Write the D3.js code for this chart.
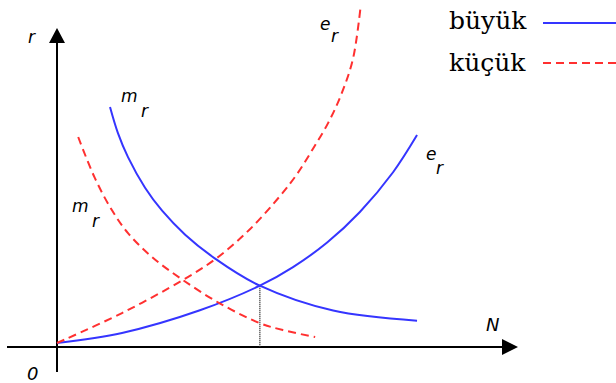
<!DOCTYPE html>
<html><head><meta charset="utf-8">
<script src="https://cdn.jsdelivr.net/npm/d3@7"></script>
<style>html,body{margin:0;padding:0;background:#fff;}svg{display:block;}</style>
</head><body>
<svg id="c" width="616" height="383"></svg>
<script>
// ---- data (N, r in arbitrary units) ----
const legendLabels = ["büyük", "küçük"];
const bigER_N   = [0, 14.1, 31.0, 44.0, 51.2, 58.6, 65.7, 72.9, 78.1];
const bigER_r   = [0, 3.2, 10.4, 18.2, 24.1, 31.9, 41.6, 54.2, 66.0];
const bigMR_N   = [11.5, 13.2, 15.4, 19.1, 22.8, 27.8, 34.3, 44.0, 59.9, 78.1];
const bigMR_r   = [74.9, 66.7, 59.0, 49.3, 42.0, 34.4, 26.8, 18.2, 10.3, 7.1];
const smallER_N = [0, 14.1, 27.3, 34.7, 41.9, 48.4, 52.1, 55.5, 58.8, 61.6, 64.2, 65.9];
const smallER_r = [0, 9.5, 20.0, 27.0, 36.2, 46.7, 53.7, 61.6, 69.8, 78.7, 90.2, 107.3];
const smallMR_N = [4.6, 8.2, 11.9, 15.4, 20.6, 27.3, 35.4, 44.0, 49.0, 56.0];
const smallMR_r = [65.4, 52.4, 42.2, 34.9, 27.3, 20.0, 12.5, 6.3, 4.1, 1.9];
const equilibriumN = 44.0, equilibriumR = 18.2;

const blue = "#3535ff", red = "#ff3030";
const svg = d3.select("#c");
const x = d3.scaleLinear().domain([0, 100]).range([57, 518]);
const y = d3.scaleLinear().domain([0, 100]).range([343, 28]);

const zip = (a, b) => a.map((v, i) => [v, b[i]]);
const line = d3.line().x(d => x(d[0])).y(d => y(d[1])).curve(d3.curveCatmullRom.alpha(0.5));

// axes
const ax = svg.append("g").attr("stroke", "#000").attr("stroke-width", 2);
const axisY = y(-1.3);
ax.append("line").attr("x1", x(0)).attr("x2", x(0)).attr("y1", 372).attr("y2", y(100) + 10);
ax.append("line").attr("x1", 7).attr("x2", x(100) - 10).attr("y1", axisY).attr("y2", axisY);
svg.append("path").attr("fill", "#000")
  .attr("d", `M${x(0)},${y(100)} L${x(0)-8},${y(100)+15} L${x(0)+8},${y(100)+15} Z`);
svg.append("path").attr("fill", "#000")
  .attr("d", `M${x(100)},${axisY} L${x(100)-16},${axisY-8} L${x(100)-16},${axisY+8} Z`);

// dotted line at equilibrium
svg.append("line").attr("x1", x(equilibriumN)).attr("x2", x(equilibriumN))
  .attr("y1", y(equilibriumR)).attr("y2", axisY)
  .attr("stroke", "#333").attr("stroke-width", 1.5).attr("stroke-dasharray", "1,1");

// curves
const curves = [
  {d: zip(bigER_N, bigER_r), c: blue, dash: null},
  {d: zip(bigMR_N, bigMR_r), c: blue, dash: null},
  {d: zip(smallER_N, smallER_r), c: red, dash: "8,5"},
  {d: zip(smallMR_N, smallMR_r), c: red, dash: "8,5"}
];
curves.forEach(s => {
  svg.append("path").attr("d", line(s.d)).attr("fill", "none")
    .attr("stroke", s.c).attr("stroke-width", 2)
    .attr("stroke-dasharray", s.dash);
});

// labels
const lab = (t, px, py, size) => svg.append("text").attr("x", px).attr("y", py)
  .attr("font-family", "DejaVu Sans").attr("font-style", "italic")
  .attr("font-size", size).attr("fill", "#000").text(t);
lab("r", 28, 43, 17);
lab("0", 27, 380, 18);
lab("N", 486, 331, 18);
lab("m", 121, 102, 17); lab("r", 141, 117, 17);
lab("m", 72, 212, 17); lab("r", 92, 227, 17);
lab("e", 320, 30, 17); lab("r", 331, 42, 17);
lab("e", 426, 160, 17); lab("r", 436, 174, 17);

// legend
const leg = [{t: legendLabels[0], c: blue, dash: null, ty: 29, ly: 23},
             {t: legendLabels[1], c: red, dash: "8,5", ty: 71, ly: 63}];
leg.forEach(l => {
  svg.append("text").attr("x", 449).attr("y", l.ty)
    .attr("font-family", "DejaVu Serif").attr("font-size", 25).attr("fill", "#000").text(l.t);
  svg.append("line").attr("x1", 543).attr("x2", 616).attr("y1", l.ly).attr("y2", l.ly)
    .attr("stroke", l.c).attr("stroke-width", 2).attr("stroke-dasharray", l.dash);
});
</script>
</body></html>
